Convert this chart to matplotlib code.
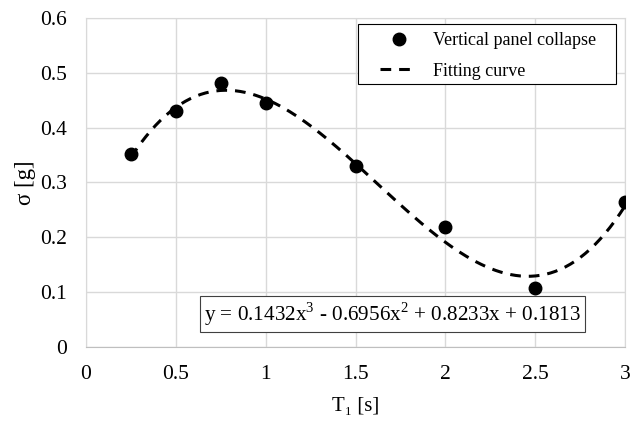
import numpy as np
import matplotlib.pyplot as plt
from matplotlib.patches import Rectangle

plt.rcParams['font.family'] = ['Liberation Serif', 'DejaVu Serif']
plt.rcParams['mathtext.fontset'] = 'custom'
plt.rcParams['mathtext.rm'] = 'Liberation Serif'

#--- data
T1    = [0.25, 0.5, 0.75, 1.0, 1.5, 2.0, 2.5, 3.0]
sigma = [0.352, 0.430, 0.481, 0.445, 0.330, 0.218, 0.107, 0.264]
coefs = [0.1432, -0.6956, 0.8233, 0.1813]  # trendline printed on the chart
eq_label = 'y = 0.1432x$^3$ - 0.6956x$^2$ + 0.8233x + 0.1813'

xticks = [0, 0.5, 1, 1.5, 2, 2.5, 3]
xtick_labels = ['0', '0.5', '1', '1.5', '2', '2.5', '3']
yticks = [0, 0.1, 0.2, 0.3, 0.4, 0.5, 0.6]
ytick_labels = ['0', '0.1', '0.2', '0.3', '0.4', '0.5', '0.6']

W, H = 644, 421
x0, x1, y0, y1 = 86, 625, 18, 347  # plot area in pixels
fig = plt.figure(figsize=(W/100, H/100), dpi=100)
ax = fig.add_axes([x0/W, 1-y1/H, (x1-x0)/W, (y1-y0)/H])

def ax_frac(px, py):
    return (px-x0)/(x1-x0), (y1-py)/(y1-y0)

# trendline
xf = np.linspace(T1[0], T1[-1], 200)
ax.plot(xf, np.polyval(coefs, xf), color='black', lw=2.2, ls=(0, (3.5, 2.6)),
        label='Fitting curve', zorder=3)
ax.plot(T1, sigma, 'o', color='black', ms=9, label='Vertical panel collapse', zorder=4)

ax.set_xlim(0, 3)
ax.set_ylim(0, 0.6)
ax.set_xticks(xticks)
ax.set_xticklabels(xtick_labels)
ax.set_yticks(yticks)
ax.set_yticklabels(ytick_labels)
ax.grid(True, color='#d9d9d9', lw=1.0)
ax.set_axisbelow(True)
for s in ax.spines.values():
    s.set_color('#d9d9d9')
ax.spines['bottom'].set_color('#bfbfbf')
ax.tick_params(length=0, labelsize=15.5)
ax.tick_params(axis='y', pad=14)
ax.tick_params(axis='x', pad=13)

ax.set_xlabel('T₁ [s]', fontsize=15, labelpad=9)
ax.set_ylabel('σ [g]', fontsize=16.5, labelpad=3)

# legend box drawn separately (wider side padding than matplotlib gives)
bx0, by0 = ax_frac(358, 84)
bx1, by1 = ax_frac(616, 24)
ax.add_patch(Rectangle((bx0, by0), bx1-bx0, by1-by0, transform=ax.transAxes,
                       fc='white', ec='black', lw=0.8, zorder=5))
h, l = ax.get_legend_handles_labels()
leg = ax.legend(h[::-1], l[::-1], loc='upper left', bbox_to_anchor=ax_frac(380, 32),
                fontsize=13, frameon=False, borderpad=0, borderaxespad=0,
                handlelength=2.05, handletextpad=0.9, labelspacing=0.75)
leg.set_zorder(6)

ax.text(0.219, 0.1, eq_label, transform=ax.transAxes, fontsize=15.2,
        va='center', ha='left',
        bbox=dict(boxstyle='square,pad=0.2', fc='white', ec='#404040', lw=0.8))

fig.savefig('out.png', dpi=100)
